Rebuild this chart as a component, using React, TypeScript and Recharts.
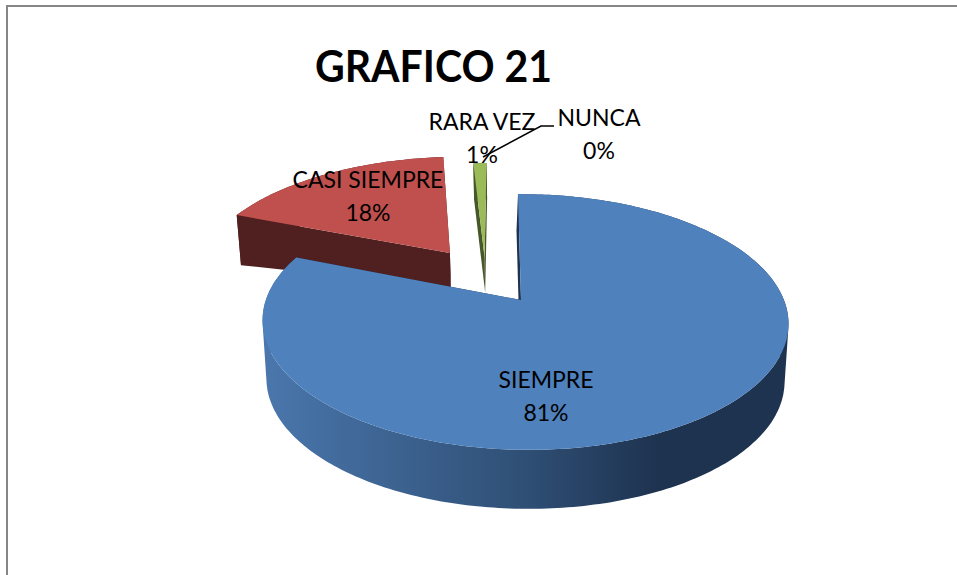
import React from 'react';
import { PieChart, Pie } from 'recharts';

// slices go counter-clockwise from 12 o'clock so SIEMPRE paints last and covers the red wall
const categories = ['NUNCA', 'RARA VEZ', 'CASI SIEMPRE', 'SIEMPRE'];
const values = [0, 1, 18, 81];
const percentLabels = ['0%', '1%', '18%', '81%'];

const topColors = ['#f79646', '#9bbb59', '#c0504d', '#4f81bd'];
const wallColors = ['#7a4a20', '#4a5a2a', '#4f201f', 'url(#blueWall)'];
const cutColors = ['#7a4a20', '#47572a', '#4f201f', '#1e3350'];

// how far each slice is pulled out, in units of the radius
const explodeU = [0, -0.145, -0.29, 0];
const explodeV = [0, -0.365, -0.407, 0];
const sliceScale = [1, 1, 1.04, 1];
const cutShift = [0, 0, 0, -1.5];

const labelCenters = [
  { x: 599, y1: 126, y2: 159 },
  { x: 482, y1: 130, y2: 163 },
  { x: 368, y1: 188, y2: 221 },
  { x: 546, y1: 388, y2: 421 },
];

const data = categories.map((name, i) => ({ name, value: values[i] }));

const WIDTH = 957;
const HEIGHT = 575;
const CX = 521;
const CY = 300;
const RADIUS = 259;

type Pt = { x: number; y: number };

// tilted disc with perspective
const project = (u: number, v: number, cx: number, cy: number, r: number): Pt => {
  const w = 1 - 0.172 * v - 0.015 * u;
  return { x: cx + (r * u) / w + 3 * v, y: cy + (r * 0.479 * v) / w };
};

const rimDepth = (v0: number) => (v0 < 0 ? 58 + 21.6 * v0 : 58 + v0);

const toPath = (pts: Pt[]) =>
  pts.map((p, i) => `${i ? 'L' : 'M'}${p.x.toFixed(1)} ${p.y.toFixed(1)}`).join(' ') + ' Z';

// every quad wound the same way, so they all add up under the nonzero fill rule
const oriented = (pts: Pt[]) => {
  let area = 0;
  pts.forEach((p, i) => {
    const n = pts[(i + 1) % pts.length];
    area += p.x * n.y - n.x * p.y;
  });
  return area < 0 ? [...pts].reverse() : pts;
};

const Slice3D = (props: any) => {
  const { cx, cy, outerRadius, startAngle, endAngle, name } = props;
  const i = categories.indexOf(name ?? props.payload?.name);
  if (Math.abs(endAngle - startAngle) < 0.01) return <g />;

  const du = explodeU[i];
  const dv = explodeV[i];
  const k = sliceScale[i];
  const arc: { u: number; v: number }[] = [];
  const steps = Math.max(2, Math.ceil(Math.abs(endAngle - startAngle)));
  for (let s = 0; s <= steps; s++) {
    const a = ((startAngle + ((endAngle - startAngle) * s) / steps) * Math.PI) / 180;
    arc.push({ u: Math.cos(a), v: -Math.sin(a) });
  }

  const up = (u: number, v: number) => project(u * k + du, v * k + dv, cx, cy, outerRadius);
  const down = (u: number, v: number, t: number, shift = 0) => {
    const p = up(u, v);
    return { x: cx + (p.x - cx) * 0.985 + shift, y: p.y + 35 + t * (rimDepth(v) - 35) };
  };

  const apexUp = up(0, 0);
  const apexDown = down(0, 0, 0);
  const first = arc[0];
  const last = arc[arc.length - 1];

  // one quad per degree, so the wall also fills the silhouette at the sides
  const rimWall = arc
    .slice(1)
    .map((p, s) => toPath(oriented([up(arc[s].u, arc[s].v), up(p.u, p.v), down(p.u, p.v, 1), down(arc[s].u, arc[s].v, 1)])))
    .join(' ');
  const cutA = [apexUp, up(first.u, first.v), down(first.u, first.v, 1), apexDown];
  const cutB = [apexUp, up(last.u, last.v), down(last.u, last.v, 1, cutShift[i]), down(0, 0, 0, cutShift[i])];
  const top = [apexUp, ...arc.map((p) => up(p.u, p.v))];

  return (
    <g>
      <defs>
        <linearGradient id="blueWall" gradientUnits="userSpaceOnUse" x1="262" y1="0" x2="788" y2="0">
          <stop offset="0" stopColor="#4a77ad" />
          <stop offset="0.5" stopColor="#2f4f75" />
          <stop offset="0.75" stopColor="#1e3350" />
          <stop offset="1" stopColor="#1e3350" />
        </linearGradient>
      </defs>
      <path d={rimWall} fill={wallColors[i]} />
      <path d={toPath(cutA)} fill={cutColors[i]} />
      <path d={toPath(cutB)} fill={cutColors[i]} />
      <path d={toPath(top)} fill={topColors[i]} />
    </g>
  );
};

const renderLabel = (props: any) => {
  const i = categories.indexOf(props.name ?? props.payload?.name);
  const pos = labelCenters[i];
  const style = { fontFamily: 'Lato', fontSize: 23, fill: '#000000' };
  return (
    <g key={categories[i]}>
      {categories[i] === 'RARA VEZ' && (
        <polyline points="483,157 541,126 554,126" fill="none" stroke="#000000" strokeWidth={1.5} />
      )}
      <text x={pos.x} y={pos.y1} textAnchor="middle" {...style}>
        {categories[i]}
      </text>
      <text x={pos.x} y={pos.y2} textAnchor="middle" {...style}>
        {percentLabels[i]}
      </text>
    </g>
  );
};

const App: React.FC = () => {
  return (
    <div style={{ position: 'absolute', left: 0, top: 0, width: WIDTH, height: HEIGHT, overflow: 'hidden', background: '#ffffff' }}>
      <div style={{ position: 'absolute', left: 6, top: 5, width: WIDTH, height: HEIGHT, borderLeft: '2px solid #868686', borderTop: '2px solid #868686' }} />
      <div style={{ position: 'absolute', left: 0, top: 0 }}>
        <PieChart width={WIDTH} height={HEIGHT} margin={{ top: 0, right: 0, bottom: 0, left: 0 }}>
          <text x={433.5} y={82} textAnchor="middle" textLength={237} lengthAdjust="spacingAndGlyphs" style={{ fontFamily: 'Lato', fontSize: 43, fontWeight: 700, fill: '#000000' }}>
            GRAFICO 21
          </text>
          <Pie
            data={data}
            dataKey="value"
            nameKey="name"
            cx={CX}
            cy={CY}
            innerRadius={0}
            outerRadius={RADIUS}
            startAngle={90}
            endAngle={450}
            stroke="none"
            shape={Slice3D}
            label={renderLabel}
            labelLine={false}
            isAnimationActive={false}
          />
        </PieChart>
      </div>
    </div>
  );
};

export default App;
